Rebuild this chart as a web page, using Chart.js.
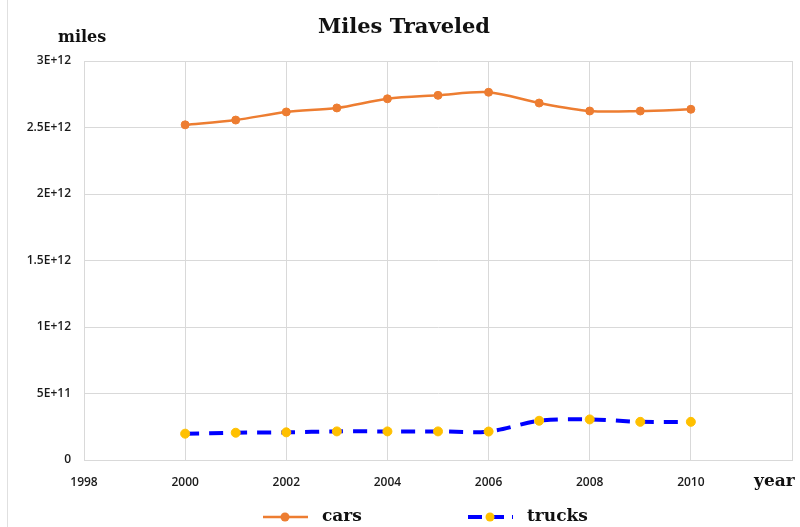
<!DOCTYPE html>
<html>
<head>
<meta charset="utf-8">
<script src="https://cdn.jsdelivr.net/npm/chart.js@4/dist/chart.umd.min.js"></script>
<style>
  body { margin: 0; background: #fff; }
  #wrap { width: 800px; height: 527px; position: relative; }
  #wrap::before { content: ''; position: absolute; left: 7px; top: 0; bottom: 0; border-left: 1px solid #e0e0e0; }
</style>
</head>
<body>
<div id="wrap"><canvas id="milesChart" width="800" height="527"></canvas></div>
<script>
// Chart data
const years = [2000, 2001, 2002, 2003, 2004, 2005, 2006, 2007, 2008, 2009, 2010];
const cars = [2.52e12, 2.556e12, 2.617e12, 2.647e12, 2.716e12, 2.742e12, 2.765e12, 2.684e12, 2.624e12, 2.624e12, 2.637e12];
const trucks = [1.98e11, 2.05e11, 2.08e11, 2.15e11, 2.15e11, 2.15e11, 2.14e11, 2.95e11, 3.05e11, 2.87e11, 2.87e11];
const yTicks = ['0', '5E+11', '1E+12', '1.5E+12', '2E+12', '2.5E+12', '3E+12'];

const serif = '"DejaVu Serif", "Liberation Serif", serif';
const orange = '#ED7D31';
const blue = '#0000FF';
const yellow = '#FFC000';

// Draw title, axis names and a legend with line + marker
const extras = {
  id: 'extras',
  afterDraw(chart) {
    const ctx = chart.ctx;
    ctx.save();
    ctx.fillStyle = '#111';
    ctx.textBaseline = 'middle';

    ctx.font = 'bold 21px ' + serif;
    ctx.textAlign = 'center';
    ctx.fillText('Miles Traveled', 404, 28);

    ctx.font = 'bold 16px ' + serif;
    ctx.textAlign = 'left';
    ctx.fillText('miles', 58, 38);
    ctx.font = 'bold 17px ' + serif;
    ctx.fillText('year', 754, 482);

    // legend
    function legendItem(x, label, color, dotColor, width, dash) {
      const y = 517;
      ctx.strokeStyle = color;
      ctx.lineWidth = width;
      ctx.setLineDash(dash);
      ctx.beginPath();
      ctx.moveTo(x, y);
      ctx.lineTo(x + 45, y);
      ctx.stroke();
      ctx.setLineDash([]);
      ctx.fillStyle = dotColor;
      ctx.beginPath();
      ctx.arc(x + 22, y, 4.5, 0, Math.PI * 2);
      ctx.fill();
      ctx.fillStyle = '#111';
      ctx.font = 'bold 17px ' + serif;
      ctx.fillText(label, x + 59, y);
    }
    legendItem(263, 'cars', orange, orange, 2.5, []);
    legendItem(468, 'trucks', blue, yellow, 4, [14, 8]);
    ctx.restore();
  }
};

new Chart(document.getElementById('milesChart'), {
  type: 'line',
  data: {
    datasets: [
      {
        label: 'cars',
        data: years.map((y, i) => ({ x: y, y: cars[i] })),
        borderColor: orange,
        backgroundColor: orange,
        borderWidth: 2.5,
        pointRadius: 4,
        pointBorderWidth: 1,
        tension: 0.3,
        fill: false
      },
      {
        label: 'trucks',
        data: years.map((y, i) => ({ x: y, y: trucks[i] })),
        borderColor: blue,
        backgroundColor: yellow,
        pointBorderColor: yellow,
        pointBorderWidth: 1,
        borderWidth: 4,
        borderDash: [14, 10],
        pointRadius: 4.5,
        tension: 0.3,
        fill: false
      }
    ]
  },
  options: {
    responsive: false,
    animation: false,
    layout: { padding: { top: 61, right: 8, bottom: 27, left: 0 } },
    plugins: {
      legend: { display: false },
      title: { display: false },
      tooltip: { enabled: false }
    },
    scales: {
      x: {
        type: 'linear',
        min: 1998,
        max: 2012,
        ticks: {
          stepSize: 2,
          color: '#1a1a1a',
          font: { family: '"Open Sans", sans-serif', size: 12, weight: '600' },
          callback: v => (v === 2012 ? '' : String(v)),
          maxRotation: 0,
          padding: 8
        },
        // tick marks hidden, only used to push the labels down
        grid: { color: '#d9d9d9', lineWidth: 1, drawTicks: true, tickLength: 7, tickColor: 'rgba(0,0,0,0)' },
        border: { color: '#d9d9d9' },
        afterFit: s => { s.height = 40; }
      },
      y: {
        min: 0,
        max: 3e12,
        ticks: {
          stepSize: 5e11,
          color: '#1a1a1a',
          font: { family: '"Open Sans", sans-serif', size: 12, weight: '600' },
          callback: (v, i) => yTicks[i],
          padding: 13
        },
        grid: { color: '#d9d9d9', lineWidth: 1, drawTicks: false },
        border: { color: '#d9d9d9' },
        afterFit: s => { s.width = 84; }
      }
    }
  },
  plugins: [extras]
});
</script>
</body>
</html>
